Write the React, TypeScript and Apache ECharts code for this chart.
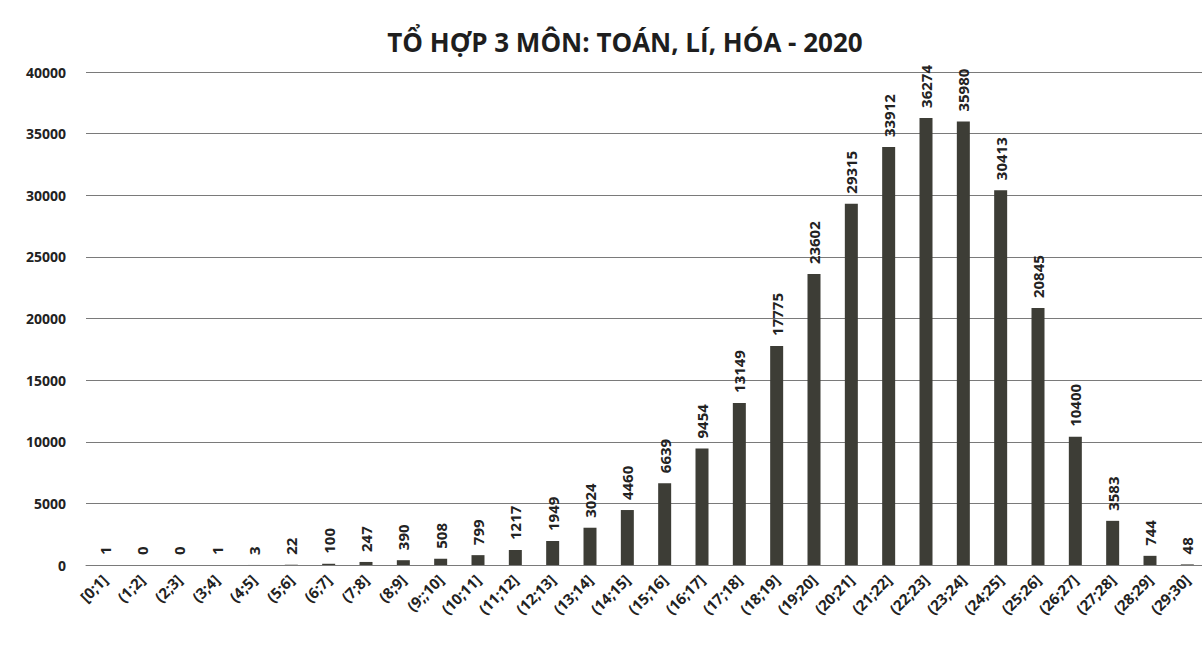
import React, { useEffect, useRef } from "react";
import * as echarts from "echarts";

const categories = [
  "[0;1]", "(1;2]", "(2;3]", "(3;4]", "(4;5]", "(5;6]", "(6;7]", "(7;8]", "(8;9]", "(9;;10]",
  "(10;11]", "(11;12]", "(12;13]", "(13;14]", "(14;15]", "(15;16]", "(16;17]", "(17;18]", "(18;19]", "(19;20]",
  "(20;21]", "(21;22]", "(22;23]", "(23;24]", "(24;25]", "(25;26]", "(26;27]", "(27;28]", "(28;29]", "(29;30]",
];
const counts = [
  1, 0, 0, 1, 3, 22, 100, 247, 390, 508,
  799, 1217, 1949, 3024, 4460, 6639, 9454, 13149, 17775, 23602,
  29315, 33912, 36274, 35980, 30413, 20845, 10400, 3583, 744, 48,
];
const titleText = "TỔ HỢP 3 MÔN: TOÁN, LÍ, HÓA - 2020";

export default function App() {
  const ref = useRef<HTMLDivElement>(null);
  useEffect(() => {
    document.body.style.margin = "0";
    const chart = echarts.init(ref.current!, null, { renderer: "svg" });
    const font = "'Open Sans', 'Noto Sans', sans-serif";
    chart.setOption({
      animation: false,
      backgroundColor: "#ffffff",
      title: {
        text: titleText,
        left: 620,
        textAlign: "center",
        top: 24,
        textStyle: { fontFamily: font, fontWeight: "bold", fontSize: 26, color: "#1e1e1e" },
      },
      grid: { left: 86, width: 1120, top: 72, height: 493, containLabel: false, outerBoundsMode: "none" },
      xAxis: {
        type: "category",
        data: categories,
        axisLine: { show: true, lineStyle: { color: "#7a7a7a", width: 1 } },
        axisTick: { show: false },
        axisLabel: {
          interval: 0,
          rotate: 45,
          hideOverlap: false,
          margin: 12,
          fontFamily: font,
          fontWeight: "bold",
          fontSize: 15,
          color: "#222",
        },
      },
      yAxis: {
        type: "value",
        min: 0,
        max: 40000,
        interval: 5000,
        axisLine: { show: false },
        axisTick: { show: false },
        splitLine: { lineStyle: { color: "#7a7a7a", width: 1 } },
        axisLabel: {
          margin: 20,
          formatter: (v: number) => String(v),
          fontFamily: font,
          fontWeight: "bold",
          fontSize: 14,
          color: "#222",
        },
      },
      series: [
        {
          type: "bar",
          data: counts,
          barWidth: 13,
          itemStyle: { color: "#3d3d36" },
          label: {
            show: true,
            position: "top",
            rotate: 90,
            align: "left",
            verticalAlign: "middle",
            distance: 10,
            fontFamily: font,
            fontWeight: "bold",
            fontSize: 15,
            color: "#222",
          },
        },
      ],
    });
    return () => chart.dispose();
  }, []);
  return <div ref={ref} style={{ width: 1202, height: 645 }} />;
}
